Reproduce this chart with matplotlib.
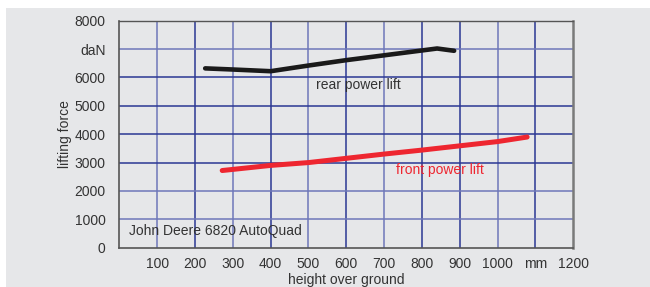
import matplotlib.pyplot as plt
from matplotlib.patches import Rectangle

plt.rcParams['font.family'] = ['Liberation Sans', 'DejaVu Sans']

# rear power lift (black)
rear_x = [227, 300, 400, 500, 600, 700, 840, 885]
rear_y = [6320, 6280, 6220, 6420, 6610, 6780, 7020, 6940]

# front power lift (red)
front_x = [272, 400, 500, 600, 700, 800, 900, 1000, 1078]
front_y = [2720, 2900, 3000, 3150, 3300, 3440, 3590, 3740, 3900]

x_ticks = [100, 200, 300, 400, 500, 600, 700, 800, 900, 1000, 1100, 1200]
x_labels = ['100', '200', '300', '400', '500', '600', '700', '800', '900', '1000', 'mm', '1200']
y_ticks = [0, 1000, 2000, 3000, 4000, 5000, 6000, 7000, 8000]
y_labels = ['0', '1000', '2000', '3000', '4000', '5000', '6000', 'daN', '8000']

fig = plt.figure(figsize=(6.5, 2.87), dpi=100)
fig.patches.append(Rectangle((6 / 650, 0), 1, 1 - 8 / 287, transform=fig.transFigure,
                             facecolor='#e6e7e9', edgecolor='none', zorder=-10))
ax = fig.add_axes([119.3 / 650, (287 - 247.7) / 287, (573.3 - 119.3) / 650, (247.7 - 20.7) / 287])
ax.set_facecolor('#e6e7e9')

ax.set_xlim(0, 1200)
ax.set_ylim(0, 8000)

# grid lines, alternating shades like the original
light = '#6e78b9'
dark = '#2b3894'
for x, c in zip(x_ticks[:-1], [light, dark, light, dark, light, dark, light, dark, dark, light, dark]):
    ax.axvline(x, color=c, lw=1.1, zorder=1)
for y, c in zip(y_ticks[1:-1], [light, light, dark, dark, dark, dark, light]):
    ax.axhline(y, color=c, lw=1.1, zorder=1)

ax.plot(rear_x, rear_y, color='#1a1a1a', lw=3.3, solid_capstyle='round', zorder=3)
ax.plot(front_x, front_y, color='#ee2630', lw=3.6, solid_capstyle='round', zorder=3)

ax.text(632, 5730, 'rear power lift', color='#333333', fontsize=10, ha='center', va='center')
ax.text(848, 2740, 'front power lift', color='#ee2630', fontsize=10, ha='center', va='center')
ax.text(25, 590, 'John Deere 6820 AutoQuad', color='#333333', fontsize=10, ha='left', va='center')

ax.set_xticks(x_ticks)
ax.set_xticklabels(x_labels)
ax.set_yticks(y_ticks)
ax.set_yticklabels(y_labels)
ax.tick_params(length=0, labelsize=10, labelcolor='#333333')
ax.tick_params(axis='y', pad=10)
ax.tick_params(axis='x', pad=7)

ax.set_xlabel('height over ground', fontsize=10, color='#333333', labelpad=1)
ax.set_ylabel('lifting force', fontsize=10, color='#333333', labelpad=2)

for side in ['left', 'bottom']:
    ax.spines[side].set_color('#555555')
    ax.spines[side].set_linewidth(1.2)
ax.spines['top'].set_color('#555555')
ax.spines['top'].set_linewidth(1.0)
ax.spines['right'].set_color('#7a7a7a')
ax.spines['right'].set_linewidth(1.8)

fig.savefig('out.png', dpi=100)
